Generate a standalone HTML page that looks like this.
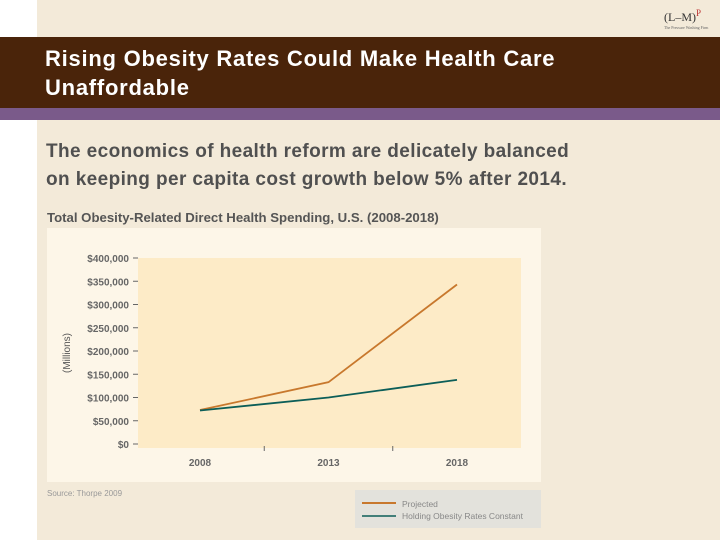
<!DOCTYPE html>
<html><head><meta charset="utf-8"><style>
body{margin:0;width:720px;height:540px;overflow:hidden;background:#fff;font-family:"Liberation Sans",sans-serif}
</style></head><body>
<div style="position:absolute;left:37px;top:0;width:683px;height:540px;background:#f3ead9"></div>
<div style="position:absolute;left:664px;top:8px;font-family:'Liberation Serif',serif;font-size:12px;color:#333">(L–M)<sup style="color:#b33;font-size:9px">P</sup><div style="font-size:4px;color:#666">The Pressure Washing Firm</div></div>
<div style="position:absolute;left:0;top:37px;width:720px;height:71px;background:#4a240a"></div>
<div style="position:absolute;left:0;top:108px;width:720px;height:12px;background:#7a5a8a"></div>
<div style="position:absolute;left:45px;top:44px;color:#fff;font-size:22px;font-weight:bold;letter-spacing:0.75px;line-height:29px">Rising Obesity Rates Could Make Health Care<br>Unaffordable</div>
<div style="position:absolute;left:46px;top:138px;color:#505050;font-size:19px;letter-spacing:0.4px;font-weight:bold;line-height:28px">The economics of health reform are delicately balanced<br>on keeping per capita cost growth below 5% after 2014.</div>
<svg id="chart" width="720" height="540" style="position:absolute;left:0;top:0">
<text x="47" y="222" font-size="13.2" font-weight="bold" fill="#555">Total Obesity-Related Direct Health Spending, U.S. (2008-2018)</text>
<rect x="47" y="228" width="494" height="254" fill="#fdf6e8"/>
<rect x="138" y="258" width="383" height="190" fill="#fdebc7"/>
<text transform="translate(70,353) rotate(-90)" text-anchor="middle" font-size="10" fill="#555">(Millions)</text>
<text x="47" y="496" font-size="8" fill="#999">Source: Thorpe 2009</text>
<rect x="355" y="490" width="186" height="38" fill="#e3e2dc"/>
<line x1="362" y1="503" x2="396" y2="503" stroke="#c8782d" stroke-width="2"/>
<line x1="362" y1="516" x2="396" y2="516" stroke="#0c5e58" stroke-width="1.5"/>
<text x="402" y="507" font-size="8.5" fill="#888">Projected</text>
<text x="402" y="519" font-size="8.5" fill="#888">Holding Obesity Rates Constant</text>
<g id="g"></g>
</svg>
<script>
const years=[2008,2013,2018];
const projected=[73000,133000,343000];
const constant=[72000,100000,138000];
const yTicks=[0,50000,100000,150000,200000,250000,300000,350000,400000];
const yTickLabels=["$0","$50,000","$100,000","$150,000","$200,000","$250,000","$300,000","$350,000","$400,000"];
const xs=v=>200+(v-2008)*(257/10);
const ys=v=>444-v*(186/400000);
const NS="http://www.w3.org/2000/svg";
const g=document.getElementById('g');
function mk(t,a){const e=document.createElementNS(NS,t);for(const k in a)e.setAttribute(k,a[k]);g.appendChild(e);return e;}
yTicks.forEach((v,i)=>{
 const t=mk('text',{x:129,y:ys(v)+4,'text-anchor':'end','font-size':10,'font-weight':'bold',fill:'#666'});
 
 
 t.textContent=yTickLabels[i];
 const l=mk('line',{x1:133,x2:138,y1:ys(v),y2:ys(v),stroke:'#666'});
 
 
});
years.forEach(y=>{
 const t=mk('text',{x:xs(y),y:466,'text-anchor':'middle','font-size':10,'font-weight':'bold',fill:'#666'});
 
 
 t.textContent=y;
});
[2010.5,2015.5].forEach(y=>{
 const l=mk('line',{x1:xs(y),x2:xs(y),y1:446,y2:451,stroke:'#666'});
 
 
});
function line(d,c,w,n){
 const p=mk('polyline',{points:d.map((v,i)=>xs(years[i])+','+ys(v)).join(' '),fill:'none',stroke:c,'stroke-width':w});
 
 
}
line(projected,'#c8782d',1.8,'projected-line');
line(constant,'#0c5e58',1.8,'constant-line');
</script>
</body></html>
